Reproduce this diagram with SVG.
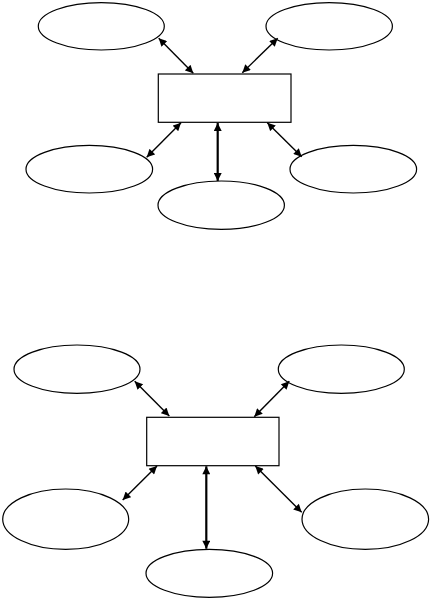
<svg xmlns="http://www.w3.org/2000/svg" width="430" height="599" viewBox="0 0 430 599">
<style>
.n{fill:#fff;stroke:#000;stroke-width:1.2}
.c{stroke:#000;stroke-width:1.4;fill:none;marker-start:url(#a);marker-end:url(#a)}
.v{stroke-width:2.2}
</style>
<defs>
<marker id="a" viewBox="0 0 10 10" refX="10" refY="5" markerWidth="9" markerHeight="8" markerUnits="userSpaceOnUse" orient="auto-start-reverse">
<path d="M0,0 L10,5 L0,10 z" fill="#000"/>
</marker>
</defs>
<rect width="430" height="599" fill="#fff"/>
<g id="top">
<g id="t-center"><rect class="n" x="158.3" y="74" width="132.7" height="48.3"/></g>
<g id="t-tl"><ellipse class="n" cx="101.3" cy="26.3" rx="63" ry="23.7"/></g>
<g id="t-tr"><ellipse class="n" cx="329.2" cy="26.3" rx="63.2" ry="23.7"/></g>
<g id="t-bl"><ellipse class="n" cx="89.3" cy="169.2" rx="63.3" ry="23.8"/></g>
<g id="t-br"><ellipse class="n" cx="353.3" cy="169.2" rx="63.3" ry="23.8"/></g>
<g id="t-b"><ellipse class="n" cx="221.2" cy="205.2" rx="63.2" ry="24.2"/></g>
</g>
<g id="bottom">
<g id="b-center"><rect class="n" x="146.7" y="417.3" width="132.3" height="48.4"/></g>
<g id="b-tl"><ellipse class="n" cx="77" cy="369.2" rx="63" ry="24.2"/></g>
<g id="b-tr"><ellipse class="n" cx="341.3" cy="369.2" rx="63" ry="24.2"/></g>
<g id="b-bl"><ellipse class="n" cx="65.7" cy="519.2" rx="63" ry="30.2"/></g>
<g id="b-br"><ellipse class="n" cx="365.3" cy="519.2" rx="63.3" ry="30.2"/></g>
<g id="b-b"><ellipse class="n" cx="209.3" cy="573.3" rx="63.3" ry="24"/></g>
</g>
<g id="connectors">
<line class="c" x1="158.7" y1="38.3" x2="193.3" y2="73.3"/>
<line class="c" x1="277.7" y1="38.3" x2="242.3" y2="72.7"/>
<line class="c" x1="181" y1="122.7" x2="146.7" y2="157.3"/>
<line class="c v" x1="217.7" y1="123" x2="217.7" y2="181"/>
<line class="c" x1="267.3" y1="122.7" x2="301.7" y2="156.7"/>
<line class="c" x1="134.7" y1="381.3" x2="169.3" y2="416"/>
<line class="c" x1="289.3" y1="381.3" x2="254.3" y2="416.7"/>
<line class="c" x1="157" y1="466" x2="122.7" y2="500"/>
<line class="c v" x1="206.3" y1="466.3" x2="206.3" y2="548.7"/>
<line class="c" x1="255.3" y1="466" x2="301.7" y2="512.3"/>
</g>
</svg>
